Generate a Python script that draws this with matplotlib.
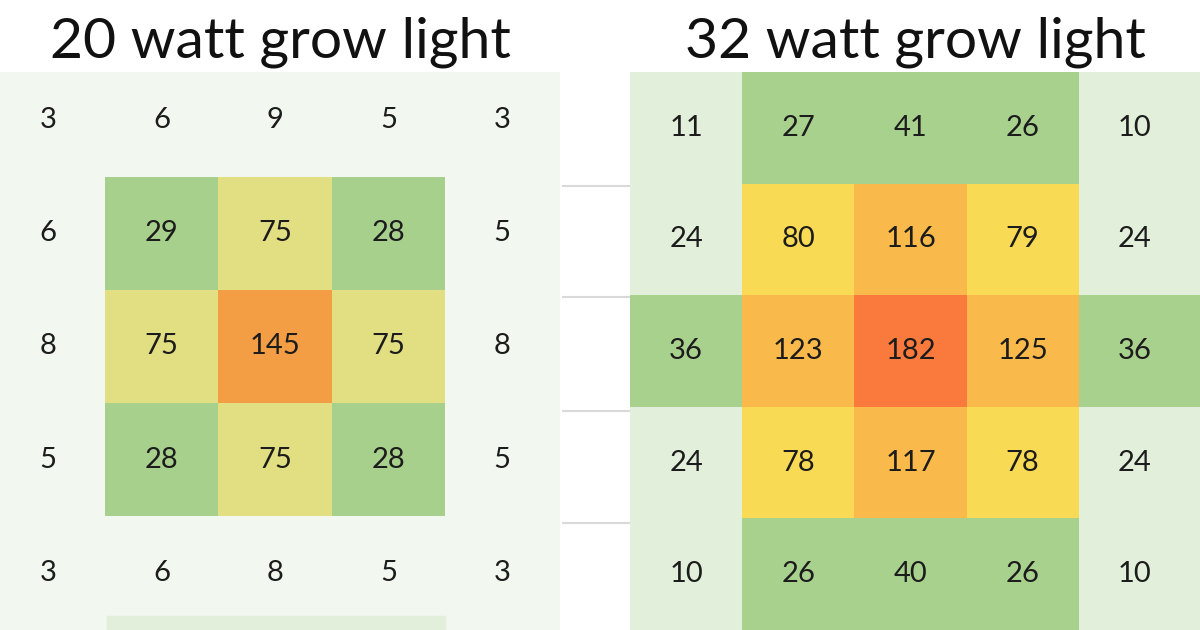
import matplotlib
matplotlib.use("Agg")
import matplotlib.pyplot as plt
import numpy as np
from matplotlib.colors import ListedColormap, BoundaryNorm
from matplotlib.patches import Rectangle

plt.rcParams['font.family'] = ['Lato', 'DejaVu Sans']

# ---- data ----
title_20w = "20 watt grow light"
title_32w = "32 watt grow light"

values_20w = [
    [3, 6, 9, 5, 3],
    [6, 29, 75, 28, 5],
    [8, 75, 145, 75, 8],
    [5, 28, 75, 28, 5],
    [3, 6, 8, 5, 3],
]
values_32w = [
    [11, 27, 41, 26, 10],
    [24, 80, 116, 79, 24],
    [36, 123, 182, 125, 36],
    [24, 78, 117, 78, 24],
    [10, 26, 40, 26, 10],
]

bounds_20w = [0, 20, 50, 100, 200]
colors_20w = ["#F2F7EF", "#A8D08D", "#E2DE82", "#F39D45"]
bounds_32w = [0, 25, 50, 100, 150, 250]
colors_32w = ["#E2EFDA", "#A9D18E", "#F9DA55", "#FAB94B", "#FA7A3E"]

W, H = 1200, 630
fig = plt.figure(figsize=(W / 100, H / 100), dpi=100)
fig.patch.set_facecolor("white")


def px_axes(x0, y0, x1, y1):
    return fig.add_axes([x0 / W, 1 - y1 / H, (x1 - x0) / W, (y1 - y0) / H])


def draw_grid(ax, vals, bounds, colors, xlim, ylim, fs):
    arr = np.array(vals)
    cmap = ListedColormap(colors)
    norm = BoundaryNorm(bounds, cmap.N)
    n_r, n_c = arr.shape
    xe = np.arange(n_c + 1) - 0.5
    xe[-1] = max(xe[-1], xlim[1])
    ye = np.arange(n_r + 1) - 0.5
    ax.pcolormesh(xe, ye, arr, cmap=cmap, norm=norm, shading="flat")
    for r in range(n_r):
        for c in range(n_c):
            ax.text(c, r, str(arr[r, c]), ha="center", va="center",
                    fontsize=fs, color="#1c1c1c")
    ax.set_xlim(*xlim)
    ax.set_ylim(*ylim)
    ax.set_axis_off()


# left panel (20 W)
axL = px_axes(0, 72, 560, 630)
axL.add_patch(Rectangle((-1, -1), 7, 7, color=colors_20w[0], zorder=0))
axL.add_patch(Rectangle((0.52, 4.38), 2.98, 1, color="#E2EFDA", zorder=3))
draw_grid(axL, values_20w, bounds_20w, colors_20w,
          ((0 - 48) / 113.5, (560 - 48) / 113.5),
          ((630 - 120) / 113.2, (72 - 120) / 113.2), 21)

# right panel (32 W)
axR = px_axes(630, 72, 1200, 630)
draw_grid(axR, values_32w, bounds_32w, colors_32w,
          (-0.5, 4.58), (4.5, -0.5), 21)
for yb in [0.52, 1.52, 2.54, 3.54]:
    axR.plot([-0.5 - 68 / 112, -0.5], [yb, yb], color="#D9D9D9", lw=1.5,
             clip_on=False, solid_capstyle="butt")

fig.text(280 / W, 1 - 42 / H, title_20w, ha="center", va="center",
         fontsize=41, color="#111111")
fig.text(915 / W, 1 - 42 / H, title_32w, ha="center", va="center",
         fontsize=41, color="#111111")

fig.savefig("out.png", dpi=100)
